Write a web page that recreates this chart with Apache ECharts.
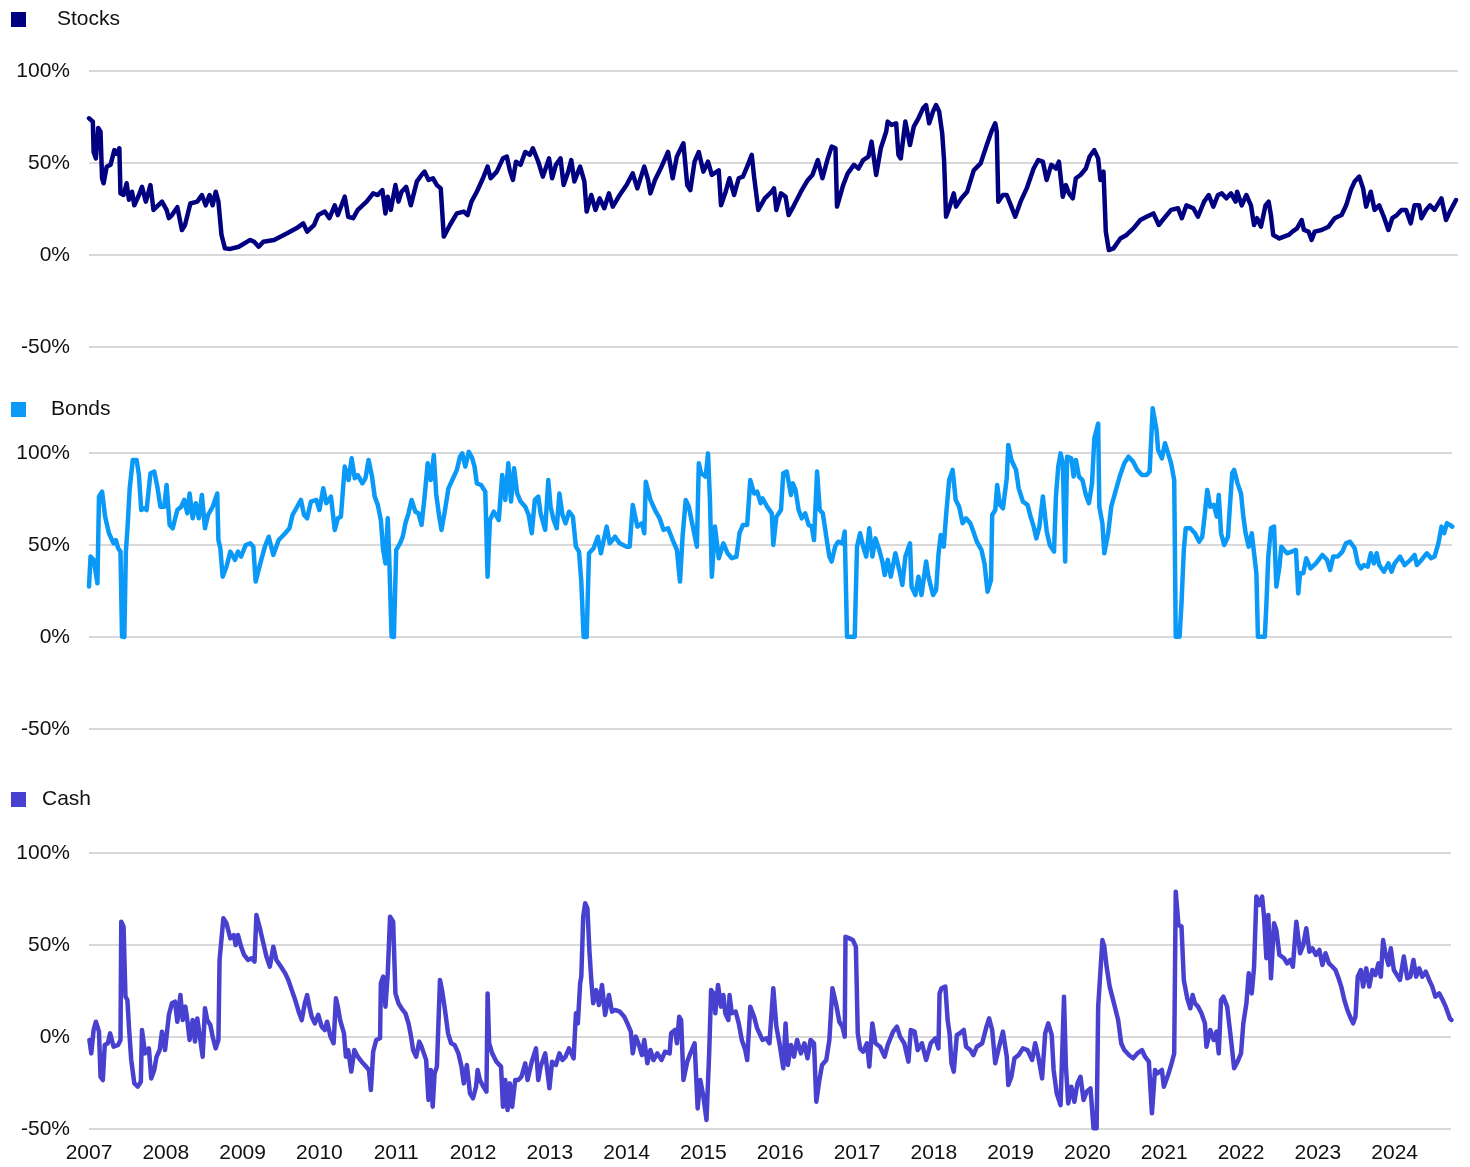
<!DOCTYPE html>
<html>
<head>
<meta charset="utf-8">
<script src="https://cdn.jsdelivr.net/npm/echarts@6/dist/echarts.min.js"></script>
<style>
  html, body { margin: 0; padding: 0; background: #fff; }
  #chart { width: 1470px; height: 1167px; }
</style>
</head>
<body>
<div id="chart"></div>
<script>
// [decimal year, % allocation]
var stocks = [
  [2007.00,74.3],[2007.05,72.5],[2007.06,56],[2007.09,52.5],[2007.12,69],[2007.15,67],[2007.17,41.7],[2007.19,39],
  [2007.23,48],[2007.28,49],[2007.33,57],[2007.36,55],[2007.395,58],[2007.41,33.5],[2007.45,32.6],[2007.49,39],
  [2007.52,30],[2007.56,34.4],[2007.59,27],[2007.65,32.6],[2007.69,37],[2007.74,29],[2007.80,38],[2007.84,24.5],
  [2007.95,29],[2008.01,24.5],[2008.04,20],[2008.08,21.7],[2008.15,26],[2008.21,13.6],[2008.25,16.3],[2008.32,28],
  [2008.41,29],[2008.47,32.6],[2008.52,27],[2008.57,32.6],[2008.61,27],[2008.65,34.4],[2008.685,29],[2008.725,11],
  [2008.77,3.6],[2008.84,3.3],[2008.95,4.5],[2009.10,8.2],[2009.15,7.2],[2009.21,4.5],[2009.27,7.2],[2009.41,8.2],
  [2009.58,11.8],[2009.70,14.5],[2009.79,17.2],[2009.84,12.7],[2009.93,16.3],[2009.985,21.7],[2010.07,23.6],[2010.13,20],
  [2010.20,27],[2010.24,21.7],[2010.33,31.7],[2010.375,20.8],[2010.44,20],[2010.50,24.5],[2010.615,29],[2010.70,33.5],
  [2010.76,32.6],[2010.82,35.3],[2010.86,22.6],[2010.89,31.7],[2010.93,24.5],[2010.99,38],[2011.03,29],[2011.07,34.4],
  [2011.13,37],[2011.19,27],[2011.27,40],[2011.33,43.5],[2011.37,45.3],[2011.42,40.8],[2011.48,41.7],[2011.53,38],
  [2011.58,36.2],[2011.62,10],[2011.70,16.3],[2011.79,22.6],[2011.88,23.6],[2011.93,21.7],[2011.98,29],[2012.05,34.4],
  [2012.13,41.7],[2012.19,48],[2012.23,41.7],[2012.31,45.3],[2012.39,52.5],[2012.44,53.5],[2012.48,46],[2012.52,40.8],
  [2012.56,50.7],[2012.62,49],[2012.68,56],[2012.74,54.4],[2012.78,58],[2012.85,50.7],[2012.91,42.6],[2012.99,52.5],
  [2013.03,41.7],[2013.08,49],[2013.14,52.5],[2013.18,38],[2013.24,45.3],[2013.28,51.6],[2013.32,40],[2013.395,48],
  [2013.45,40],[2013.48,23.6],[2013.54,32.6],[2013.595,24.5],[2013.65,30.8],[2013.71,25.4],[2013.77,33.5],[2013.82,26.3],
  [2013.91,32.6],[2014.00,38],[2014.08,44.4],[2014.14,36.2],[2014.23,48],[2014.28,40.8],[2014.31,33.5],[2014.37,40.8],
  [2014.455,48],[2014.54,56],[2014.60,41.7],[2014.655,53.5],[2014.74,60.7],[2014.79,38],[2014.83,35.3],[2014.885,50.7],
  [2014.94,56],[2015.00,45.3],[2015.06,50.7],[2015.11,43.5],[2015.20,46],[2015.23,27],[2015.29,34.4],[2015.34,41.7],
  [2015.40,32.6],[2015.46,41.7],[2015.515,42.6],[2015.57,48],[2015.63,54.4],[2015.66,42.6],[2015.715,24.5],[2015.80,30.8],
  [2015.89,34.4],[2015.92,36.2],[2015.95,24.5],[2016.01,33.5],[2016.07,31.7],[2016.11,21.7],[2016.18,27],[2016.27,34.4],
  [2016.36,40.8],[2016.42,43.5],[2016.49,51.6],[2016.55,41.7],[2016.62,52.5],[2016.67,58.9],[2016.72,58],[2016.74,26.3],
  [2016.82,38],[2016.88,44.4],[2016.96,49],[2017.02,47],[2017.08,51.6],[2017.15,53.5],[2017.19,61.6],[2017.25,43.5],
  [2017.31,58],[2017.38,67],[2017.40,72.5],[2017.45,70.7],[2017.51,71.6],[2017.54,54.4],[2017.57,52.5],[2017.63,72.5],
  [2017.69,59.8],[2017.74,69.8],[2017.80,74.3],[2017.86,79.7],[2017.90,81.5],[2017.94,71.6],[2017.99,78],[2018.03,81.5],
  [2018.07,78],[2018.11,66],[2018.135,50.7],[2018.16,20.8],[2018.20,25.4],[2018.26,33.5],[2018.29,26.3],[2018.36,30.8],
  [2018.435,34.4],[2018.52,46],[2018.61,49.8],[2018.69,59.8],[2018.75,67],[2018.80,71.6],[2018.82,67],[2018.84,29],
  [2018.90,32.6],[2018.95,32.6],[2019.01,26.3],[2019.06,20.8],[2019.13,29],[2019.21,36.2],[2019.30,47],[2019.36,51.6],
  [2019.42,50.7],[2019.47,40.8],[2019.53,49],[2019.59,47],[2019.63,50.7],[2019.68,31.7],[2019.72,38],[2019.76,33.5],
  [2019.81,30.8],[2019.85,41.7],[2019.91,43.5],[2019.98,47],[2020.03,53.5],[2020.09,57],[2020.14,52.5],[2020.17,40.8],
  [2020.21,45.3],[2020.24,12.7],[2020.28,2.7],[2020.34,3.6],[2020.43,9],[2020.51,10.9],[2020.60,14.5],[2020.69,19],
  [2020.77,20.8],[2020.86,22.6],[2020.93,16.3],[2021.00,20],[2021.09,24.5],[2021.18,25.4],[2021.23,20],[2021.29,27],
  [2021.38,25.4],[2021.44,20.8],[2021.52,29],[2021.58,32.6],[2021.64,26.3],[2021.70,32.6],[2021.75,33.5],[2021.81,30.8],
  [2021.87,33.5],[2021.93,29],[2021.95,34.4],[2022.01,27],[2022.07,32.6],[2022.13,27],[2022.17,16.3],[2022.21,20],
  [2022.26,15.4],[2022.32,27],[2022.36,29],[2022.39,21.7],[2022.42,10.9],[2022.50,9],[2022.56,10],[2022.62,10.9],
  [2022.67,12.7],[2022.73,14.5],[2022.79,19],[2022.82,13.6],[2022.88,12.7],[2022.92,8.2],[2022.96,12.7],[2023.05,13.6],
  [2023.14,15.4],[2023.22,20],[2023.31,21.7],[2023.37,27],[2023.43,35.3],[2023.48,39.9],[2023.54,42.6],[2023.59,36.2],
  [2023.63,26.3],[2023.69,34.4],[2023.74,24.5],[2023.80,27],[2023.86,20.8],[2023.92,13.6],[2023.97,20],[2024.03,21.7],
  [2024.09,24.5],[2024.15,24.5],[2024.21,17.2],[2024.26,27],[2024.32,27],[2024.35,20],[2024.41,24.5],[2024.46,27],
  [2024.52,24.5],[2024.61,30.8],[2024.67,19],[2024.72,23.6],[2024.80,29.9]
];

var bonds = [
  [2007.00,27.4],[2007.02,43.7],[2007.06,41.9],[2007.11,29.2],[2007.13,76.3],[2007.17,79],[2007.21,65.4],[2007.26,56.4],
  [2007.32,50.9],[2007.35,52.7],[2007.38,48.2],[2007.41,46.4],[2007.43,0.2],[2007.46,0],[2007.48,46.4],[2007.50,58.2],
  [2007.53,80.8],[2007.57,96.2],[2007.62,96.2],[2007.65,88],[2007.68,69],[2007.72,70],[2007.75,69],[2007.80,89],
  [2007.85,89.9],[2007.89,81.7],[2007.93,70.8],[2007.98,70.8],[2008.01,82.6],[2008.05,60.9],[2008.09,59.1],[2008.15,69],
  [2008.20,70.8],[2008.24,74.5],[2008.28,67.2],[2008.31,78],[2008.35,64.5],[2008.39,72.7],[2008.43,64.5],[2008.47,77.2],
  [2008.51,59.1],[2008.55,66.3],[2008.61,70.8],[2008.67,78],[2008.685,52.7],[2008.71,48.2],[2008.74,32.8],[2008.79,38.2],
  [2008.84,46.4],[2008.90,41.9],[2008.94,46.4],[2008.98,43.7],[2009.04,50],[2009.10,50.9],[2009.14,49.1],[2009.17,30.1],
  [2009.23,40],[2009.29,49.1],[2009.34,54.5],[2009.40,44.6],[2009.47,52.7],[2009.555,56.4],[2009.61,59.1],[2009.65,66.3],
  [2009.71,70.8],[2009.76,74.5],[2009.80,66.3],[2009.84,64.5],[2009.89,73.6],[2009.96,74.5],[2010.00,69],[2010.05,80.8],
  [2010.09,72.7],[2010.15,76.3],[2010.20,58.2],[2010.24,64.5],[2010.28,65.4],[2010.33,92.6],[2010.38,85.3],[2010.42,97.1],
  [2010.46,86.3],[2010.50,88],[2010.56,83.5],[2010.60,86.3],[2010.64,96.2],[2010.685,87.2],[2010.72,76.3],[2010.76,71.8],
  [2010.80,63.6],[2010.83,47.3],[2010.86,40],[2010.89,64.5],[2010.91,41.9],[2010.94,0.2],[2010.97,0],[2011.00,47.3],
  [2011.05,50.9],[2011.085,54.5],[2011.12,61.8],[2011.16,67.2],[2011.20,74.5],[2011.25,68.1],[2011.29,67.2],[2011.33,60.9],
  [2011.37,76.3],[2011.41,94.4],[2011.45,85.3],[2011.49,98.9],[2011.52,78],[2011.56,65.4],[2011.59,58.2],[2011.635,69],
  [2011.68,80.8],[2011.73,85.3],[2011.79,90.8],[2011.83,98],[2011.86,99.8],[2011.90,92.6],[2011.945,100.7],[2011.99,97.1],
  [2012.02,92.6],[2012.05,83.5],[2012.105,82.6],[2012.16,79],[2012.19,32.8],[2012.22,63.6],[2012.27,68.1],[2012.335,63.6],
  [2012.38,88],[2012.42,74.5],[2012.46,94.4],[2012.495,73.6],[2012.535,91.7],[2012.575,78],[2012.62,73.6],[2012.68,70.8],
  [2012.725,66.3],[2012.765,56.4],[2012.805,74.5],[2012.85,76.3],[2012.88,67.2],[2012.94,58.2],[2012.98,85.3],[2013.01,70.8],
  [2013.05,63.6],[2013.09,59.1],[2013.125,78],[2013.165,66.3],[2013.205,61.8],[2013.25,68.1],[2013.30,65.4],[2013.34,49.1],
  [2013.38,46.4],[2013.41,30.1],[2013.44,0],[2013.48,0],[2013.51,45.5],[2013.57,48.2],[2013.625,54.5],[2013.665,45.5],
  [2013.74,60],[2013.78,50.9],[2013.85,54.5],[2013.91,50.9],[2014.00,49.1],[2014.04,49.1],[2014.08,71.8],[2014.14,60],
  [2014.20,61.8],[2014.23,56.4],[2014.25,84.4],[2014.31,74.5],[2014.37,69],[2014.43,64.5],[2014.48,58.2],[2014.54,59.1],
  [2014.60,52.7],[2014.655,47.3],[2014.695,30.1],[2014.73,55.4],[2014.77,74.5],[2014.81,70.8],[2014.845,63.6],[2014.915,49.1],
  [2014.94,94.4],[2014.97,89],[2015.03,87.2],[2015.06,99.8],[2015.085,74.5],[2015.11,32.8],[2015.15,60],[2015.20,42.8],
  [2015.26,50.9],[2015.315,45.5],[2015.37,42.8],[2015.43,43.7],[2015.47,56.4],[2015.515,60.9],[2015.57,60.9],[2015.61,85.3],
  [2015.66,78],[2015.70,79],[2015.745,72.7],[2015.77,75.4],[2015.83,70.8],[2015.89,67.2],[2015.91,50],[2015.95,65.4],
  [2016.01,69],[2016.04,89],[2016.085,89.9],[2016.11,90.8],[2016.14,77.2],[2016.165,83.5],[2016.20,79.9],[2016.24,69],
  [2016.28,64.5],[2016.325,67.2],[2016.37,60.9],[2016.41,60],[2016.44,52.7],[2016.48,89.9],[2016.515,69],[2016.555,67.2],
  [2016.60,54.5],[2016.64,43.7],[2016.67,41],[2016.715,49.1],[2016.755,51.8],[2016.81,50.9],[2016.84,57.3],[2016.87,0.2],
  [2016.97,0.2],[2017.00,49.1],[2017.04,56.4],[2017.08,49.1],[2017.12,43.7],[2017.16,59.1],[2017.20,43.7],[2017.24,53.6],
  [2017.29,47.3],[2017.33,41],[2017.36,33.7],[2017.40,41.9],[2017.44,32.8],[2017.50,45.5],[2017.56,34.6],[2017.59,28.3],
  [2017.63,43.7],[2017.69,50.9],[2017.71,27.4],[2017.76,22.8],[2017.80,32.8],[2017.84,22.8],[2017.90,41],[2017.93,32.8],
  [2017.99,22.8],[2018.03,25.5],[2018.06,44.6],[2018.09,55.4],[2018.13,49.1],[2018.16,66.3],[2018.20,85.3],[2018.245,90.8],
  [2018.285,74.5],[2018.33,70.8],[2018.375,61.8],[2018.42,64.5],[2018.475,61.8],[2018.515,57.3],[2018.56,51.8],[2018.62,47.3],
  [2018.66,40],[2018.70,24.6],[2018.745,31],[2018.76,66.3],[2018.80,69],[2018.825,82.6],[2018.86,71.8],[2018.90,69.9],
  [2018.95,86.3],[2018.97,104.4],[2019.01,96.2],[2019.07,90.8],[2019.105,80.8],[2019.16,73.6],[2019.22,71.8],[2019.26,65.4],
  [2019.30,60],[2019.335,53.6],[2019.375,60],[2019.42,76.3],[2019.47,57.3],[2019.51,50],[2019.565,46.4],[2019.59,76.3],
  [2019.62,92.6],[2019.65,99.8],[2019.68,94.4],[2019.71,41],[2019.735,98],[2019.79,97.1],[2019.82,87.2],[2019.85,96.2],
  [2019.89,87.2],[2019.935,85.3],[2019.98,77.2],[2020.02,72.7],[2020.06,83.5],[2020.09,108],[2020.14,116],[2020.155,70.8],
  [2020.195,61.8],[2020.22,45.5],[2020.27,56.4],[2020.31,70.8],[2020.365,79],[2020.42,87.2],[2020.48,94.4],[2020.535,98],
  [2020.595,95.3],[2020.65,90.8],[2020.71,88],[2020.77,88],[2020.81,89.9],[2020.85,124.3],[2020.90,112.5],[2020.92,101.7],
  [2020.97,97.1],[2021.01,105.3],[2021.05,99.8],[2021.09,94.4],[2021.13,85.3],[2021.15,0.2],[2021.20,0.2],[2021.225,18.3],
  [2021.255,47.3],[2021.28,59.1],[2021.34,59.1],[2021.40,56.4],[2021.455,51.8],[2021.495,54.5],[2021.53,67.2],[2021.56,79.9],
  [2021.60,70.8],[2021.645,71.8],[2021.685,65.4],[2021.71,77.2],[2021.74,56.4],[2021.78,50],[2021.83,54.5],[2021.855,70.8],
  [2021.885,89],[2021.91,90.8],[2021.955,83.5],[2022.00,78],[2022.03,65.4],[2022.06,56.4],[2022.10,49.1],[2022.14,56.4],
  [2022.17,45.5],[2022.20,34.6],[2022.22,0.2],[2022.31,0.2],[2022.33,17.4],[2022.355,43.7],[2022.39,59.1],[2022.43,60],
  [2022.46,27.4],[2022.50,38.2],[2022.525,49.1],[2022.56,47.3],[2022.60,45.5],[2022.66,46.4],[2022.715,47.3],[2022.745,23.7],
  [2022.77,34.6],[2022.81,34.6],[2022.85,42.8],[2022.905,37.3],[2022.975,40],[2023.06,44.6],[2023.12,41.9],[2023.16,36.4],
  [2023.20,43.7],[2023.26,43.7],[2023.32,46.4],[2023.365,50.9],[2023.42,51.8],[2023.48,48.2],[2023.52,40],[2023.56,37.3],
  [2023.60,39.1],[2023.65,38.2],[2023.69,45.5],[2023.73,40],[2023.765,45.5],[2023.80,39.1],[2023.86,35.5],[2023.92,40],
  [2023.96,35.5],[2024.00,40],[2024.07,43.7],[2024.13,39.1],[2024.205,41.9],[2024.26,44.6],[2024.29,39.1],[2024.35,41.9],
  [2024.42,45.5],[2024.475,42.8],[2024.52,43.7],[2024.57,50.9],[2024.61,60],[2024.645,56.4],[2024.68,61.8],[2024.72,60.9],
  [2024.75,60]
];

var cash = [
  [2007.005,-1.6],[2007.03,-8.9],[2007.06,3.8],[2007.09,8.3],[2007.13,2.9],[2007.15,-21.6],[2007.18,-23.4],[2007.205,-4.3],
  [2007.245,-3.4],[2007.275,2],[2007.32,-5.3],[2007.38,-4.3],[2007.41,-1.6],[2007.42,62.7],[2007.45,60],[2007.475,21.9],
  [2007.50,20.1],[2007.52,5.6],[2007.55,-12.5],[2007.59,-25.2],[2007.635,-27],[2007.675,-24.3],[2007.69,3.8],[2007.73,-8.9],
  [2007.78,-6.2],[2007.81,-22.5],[2007.85,-17.9],[2007.88,-10.7],[2007.92,-7.1],[2007.95,2.9],[2007.99,-7.1],[2008.04,12],
  [2008.08,18.3],[2008.12,19.2],[2008.15,8.3],[2008.19,22.8],[2008.22,9.2],[2008.255,16.5],[2008.28,9.2],[2008.31,-1.6],
  [2008.35,9.2],[2008.38,-2.5],[2008.41,10.1],[2008.45,-1.6],[2008.48,-10.7],[2008.51,15.6],[2008.54,9.2],[2008.58,6.5],
  [2008.61,0.2],[2008.65,-6.2],[2008.685,-1.6],[2008.70,41.9],[2008.725,41.9],[2008.75,64.5],[2008.79,61.8],[2008.84,53.6],
  [2008.885,55.4],[2008.91,50],[2008.94,55.4],[2008.98,49.1],[2009.02,44.6],[2009.07,41.9],[2009.115,42.8],[2009.155,41],
  [2009.18,66.3],[2009.23,58.2],[2009.27,50.9],[2009.31,43.7],[2009.355,38.2],[2009.40,49.1],[2009.44,41.9],[2009.50,38.2],
  [2009.555,34.6],[2009.595,31],[2009.64,25.5],[2009.685,20.1],[2009.73,13.8],[2009.77,9.2],[2009.81,18.3],[2009.84,22.8],
  [2009.87,16.5],[2009.90,11],[2009.94,7.4],[2009.985,12],[2010.03,5.6],[2010.07,3.8],[2010.10,8.3],[2010.145,0.2],
  [2010.185,-3.4],[2010.215,21],[2010.24,16.5],[2010.27,9.2],[2010.32,2],[2010.345,-10.7],[2010.375,-7.1],[2010.415,-18.8],
  [2010.455,-7.1],[2010.50,-10.7],[2010.55,-13.4],[2010.59,-15.2],[2010.645,-17.9],[2010.67,-28.8],[2010.70,-8],[2010.74,-1.6],
  [2010.79,-0.7],[2010.80,29.2],[2010.83,32.8],[2010.86,16.5],[2010.89,34.6],[2010.92,65.4],[2010.96,62.7],[2010.99,23.7],
  [2011.03,18.3],[2011.07,15.6],[2011.12,12.9],[2011.16,7.4],[2011.19,1.1],[2011.22,-7.1],[2011.26,-10.7],[2011.30,-2.5],
  [2011.33,-5.3],[2011.36,-8.9],[2011.39,-12.5],[2011.42,-34.2],[2011.45,-17.9],[2011.475,-37.9],[2011.50,-19.8],[2011.53,-16.1],
  [2011.57,31],[2011.60,24.6],[2011.635,14.7],[2011.675,2],[2011.715,-3.4],[2011.76,-4.3],[2011.81,-8.9],[2011.85,-16.1],
  [2011.88,-25.2],[2011.92,-15.2],[2011.96,-30.6],[2012.00,-33.3],[2012.04,-27],[2012.06,-17.9],[2012.09,-23.4],[2012.135,-27],
  [2012.175,-29.7],[2012.19,23.7],[2012.21,-3.4],[2012.25,-8.9],[2012.305,-13.4],[2012.365,-16.1],[2012.39,-37.9],[2012.42,-23.4],
  [2012.45,-39.7],[2012.48,-25.2],[2012.51,-37.9],[2012.55,-23.4],[2012.59,-23.4],[2012.63,-21.6],[2012.68,-14.3],[2012.71,-23.4],
  [2012.765,-13.4],[2012.82,-6.2],[2012.85,-23.4],[2012.88,-16.1],[2012.94,-8.9],[2012.995,-27.9],[2013.03,-13.4],[2013.08,-15.2],
  [2013.125,-8.9],[2013.165,-12.5],[2013.205,-10.7],[2013.25,-6.2],[2013.31,-11.6],[2013.34,12.9],[2013.365,7.4],[2013.395,29.2],
  [2013.41,32.8],[2013.435,65.4],[2013.46,72.7],[2013.49,69.9],[2013.515,47.3],[2013.54,31],[2013.565,18.3],[2013.605,25.5],
  [2013.64,17.4],[2013.68,28.3],[2013.72,12],[2013.77,22.8],[2013.81,13.8],[2013.85,14.7],[2013.91,13.8],[2013.97,11],
  [2014.01,7.4],[2014.055,2.9],[2014.08,-8.9],[2014.12,0.2],[2014.16,-4.3],[2014.20,-9.8],[2014.23,-1.6],[2014.27,-14.3],
  [2014.31,-7.1],[2014.35,-12.5],[2014.40,-8.9],[2014.455,-12.5],[2014.50,-8],[2014.56,-8.9],[2014.58,2],[2014.63,3.8],
  [2014.655,-3.4],[2014.685,11],[2014.71,9.2],[2014.74,-23.4],[2014.79,-13.4],[2014.83,-8.9],[2014.885,-3.4],[2014.925,-38.8],
  [2014.96,-23.4],[2015.00,-32.4],[2015.04,-45.1],[2015.075,-8.9],[2015.10,25.5],[2015.13,23.7],[2015.155,12.9],[2015.19,28.3],
  [2015.23,16.5],[2015.26,22.8],[2015.285,12.9],[2015.325,9.2],[2015.34,22.8],[2015.37,12.9],[2015.42,13.8],[2015.46,7.4],
  [2015.50,-1.6],[2015.545,-7.1],[2015.57,-12.5],[2015.61,16.5],[2015.66,11],[2015.70,4.7],[2015.725,3.8],[2015.77,-1.6],
  [2015.82,-0.7],[2015.86,-3.4],[2015.91,26.5],[2015.95,5.6],[2015.99,-3.4],[2016.04,-17],[2016.07,7.4],[2016.10,-15.2],
  [2016.14,-4.3],[2016.18,-10.7],[2016.22,-1.6],[2016.27,-8.9],[2016.315,-3.4],[2016.355,-11.6],[2016.395,-1.6],[2016.44,-3.4],
  [2016.47,-35.2],[2016.51,-23.4],[2016.545,-15.2],[2016.60,-12.5],[2016.64,-1.6],[2016.68,26.5],[2016.73,17.4],[2016.77,8.3],
  [2016.81,5.6],[2016.84,0.2],[2016.85,54.5],[2016.90,53.6],[2016.945,52.7],[2016.985,49.1],[2017.01,2],[2017.04,-6.2],
  [2017.08,-8],[2017.13,-3.4],[2017.16,-16.1],[2017.20,7.4],[2017.24,-3.4],[2017.30,-5.3],[2017.36,-10.7],[2017.40,-4.3],
  [2017.47,2.9],[2017.52,5.6],[2017.56,0.2],[2017.615,-3.4],[2017.67,-13.4],[2017.70,3.8],[2017.75,2.9],[2017.79,-7.1],
  [2017.845,-3.4],[2017.90,-12.5],[2017.96,-3.4],[2018.02,-0.7],[2018.06,-6.2],[2018.075,23.7],[2018.10,26.5],[2018.15,27.4],
  [2018.18,9.2],[2018.205,2],[2018.23,-14.3],[2018.26,-18.8],[2018.30,1.1],[2018.34,2],[2018.39,3.8],[2018.42,-5.3],
  [2018.475,-7.1],[2018.515,-9.8],[2018.56,-5.3],[2018.63,-3.4],[2018.685,5.6],[2018.72,10.1],[2018.76,3.8],[2018.80,-14.3],
  [2018.85,-5.3],[2018.90,2.9],[2018.95,-10.7],[2018.97,-26.1],[2019.01,-21.6],[2019.05,-11.6],[2019.105,-9.8],[2019.16,-6.2],
  [2019.22,-7.1],[2019.28,-12.5],[2019.32,-3.4],[2019.36,-10.7],[2019.41,-22.5],[2019.45,2],[2019.49,7.4],[2019.535,1.1],
  [2019.56,-17.9],[2019.60,-30.6],[2019.65,-37],[2019.695,21.9],[2019.72,-16.1],[2019.75,-36.1],[2019.79,-27],[2019.83,-35.2],
  [2019.87,-25.2],[2019.91,-21.6],[2019.95,-34.2],[2019.99,-29.7],[2020.04,-27.9],[2020.08,-49.6],[2020.12,-49.6],[2020.14,16.5],
  [2020.165,32.8],[2020.195,52.7],[2020.22,49.1],[2020.25,38.2],[2020.29,27.4],[2020.34,19.2],[2020.40,9.2],[2020.44,-3.4],
  [2020.48,-7.1],[2020.54,-9.8],[2020.595,-11.6],[2020.65,-8.9],[2020.71,-7.1],[2020.75,-10.7],[2020.80,-13.4],[2020.82,-12.5],
  [2020.84,-41.5],[2020.88,-17.9],[2020.91,-19.8],[2020.97,-17.9],[2020.995,-27],[2021.05,-20.7],[2021.09,-15.2],[2021.13,-8.9],
  [2021.15,79],[2021.185,60.9],[2021.225,60],[2021.255,31],[2021.30,21],[2021.34,15.6],[2021.37,22.8],[2021.40,18.3],
  [2021.44,16.5],[2021.485,12.9],[2021.53,7.4],[2021.55,-5.3],[2021.60,3.8],[2021.645,-1.6],[2021.68,2.9],[2021.71,-8.9],
  [2021.74,20.1],[2021.77,21.9],[2021.82,16.5],[2021.84,9.2],[2021.875,-3.4],[2021.91,-17],[2021.955,-13.4],[2022.00,-8.9],
  [2022.03,7.4],[2022.07,18.3],[2022.10,34.6],[2022.14,23.7],[2022.17,38.2],[2022.20,76.3],[2022.24,71.8],[2022.275,76.3],
  [2022.30,65.4],[2022.33,42.8],[2022.355,66.3],[2022.39,31.9],[2022.43,61.8],[2022.46,58.2],[2022.50,44.6],[2022.56,42.8],
  [2022.60,40],[2022.64,41.9],[2022.675,38.2],[2022.72,62.7],[2022.745,61.8],[2022.77,45.5],[2022.81,50],[2022.85,59.1],
  [2022.89,46.4],[2022.93,48.2],[2022.975,44.6],[2023.02,47.3],[2023.06,39.1],[2023.10,45.5],[2023.145,40],[2023.19,38.2],
  [2023.23,36.4],[2023.27,31.9],[2023.305,27.4],[2023.345,20.1],[2023.385,14.7],[2023.42,11],[2023.46,7.4],[2023.49,11],
  [2023.52,32.8],[2023.56,36.4],[2023.59,27.4],[2023.63,37.3],[2023.67,27.4],[2023.71,36.4],[2023.75,33.7],[2023.79,40],
  [2023.82,32.8],[2023.85,52.7],[2023.88,45.5],[2023.92,39.1],[2023.95,48.2],[2023.99,36.4],[2024.03,33.7],[2024.07,31],
  [2024.12,43.7],[2024.165,31.9],[2024.205,32.8],[2024.245,41.9],[2024.28,32.8],[2024.32,37.3],[2024.36,32.8],[2024.405,35.5],
  [2024.45,31],[2024.49,27.4],[2024.53,21.9],[2024.58,23.7],[2024.625,20.1],[2024.665,16.5],[2024.69,17.4],[2024.72,10.1],
  [2024.74,9.2]
];

var names = ['Stocks', 'Bonds', 'Cash'];
var colors = ['#000080', '#0a99f7', '#4840ce'];
var yTicks = [-50, 0, 50, 100];

var font = '"Liberation Sans", Arial, sans-serif';

// panel boxes (px)
var panels = [
  { top: 71,  right: 1470 - 1458, xMax: 2024.826, legendTop: 9,   textPad: 26 },
  { top: 453, right: 1470 - 1452, xMax: 2024.747, legendTop: 399, textPad: 20 },
  { top: 853, right: 1470 - 1451, xMax: 2024.734, legendTop: 789, textPad: 11 }
];

var grids = [], xAxes = [], yAxes = [], legends = [];
panels.forEach(function (p, i) {
  grids.push({ left: 89, right: p.right, top: p.top, height: 276, containLabel: false });
  xAxes.push({
    type: 'value', gridIndex: i, min: 2007, max: p.xMax, interval: 1,
    axisLine: { show: false }, axisTick: { show: false }, splitLine: { show: false },
    axisLabel: {
      show: i === 2, margin: 14, fontSize: 21, color: '#111', fontFamily: font,
      showMaxLabel: false,
      formatter: function (v) { return String(Math.round(v)); }
    }
  });
  yAxes.push({
    type: 'value', gridIndex: i, min: yTicks[0], max: yTicks[yTicks.length - 1], interval: 50,
    axisLine: { show: false }, axisTick: { show: false },
    splitLine: { lineStyle: { color: '#d9d9d9', width: 2 } },
    axisLabel: { margin: 19, fontSize: 21, color: '#111', fontFamily: font, formatter: '{value}%' }
  });
  legends.push({
    data: [names[i]], left: 11, top: p.legendTop, padding: 0, icon: 'rect',
    itemWidth: 15, itemHeight: 15, selectedMode: false,
    textStyle: { fontSize: 21, color: '#111', fontFamily: font, padding: [4, 0, 0, p.textPad] }
  });
});

var seriesData = [stocks, bonds, cash];
var series = seriesData.map(function (d, i) {
  return {
    name: names[i], type: 'line', xAxisIndex: i, yAxisIndex: i,
    data: d, showSymbol: false, clip: false,
    itemStyle: { color: colors[i] },
    lineStyle: { color: colors[i], width: 4.5, cap: 'round', join: 'round' }
  };
});

var option = {
  animation: false,
  backgroundColor: '#fff',
  grid: grids,
  xAxis: xAxes,
  yAxis: yAxes,
  legend: legends,
  series: series
};

var chartDiv = document.getElementById('chart');
var myChart = echarts.init(chartDiv, null, { renderer: 'canvas' });
myChart.setOption(option);
</script>
</body>
</html>
